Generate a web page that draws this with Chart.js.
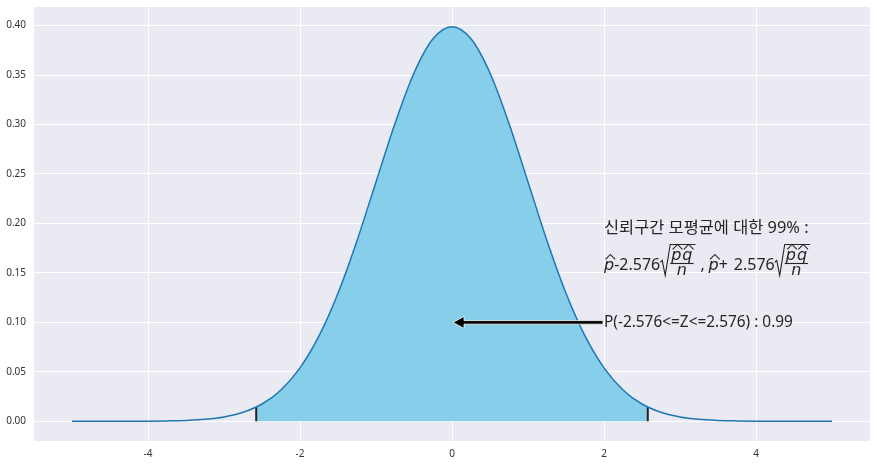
<!DOCTYPE html>
<html>
<head>
<meta charset="utf-8">
<script src="https://cdn.jsdelivr.net/npm/chart.js@4"></script>
<style>
  body { margin: 0; background: #fff; }
</style>
</head>
<body>
<canvas id="normChart" width="877" height="465"></canvas>
<script>
// values (standard normal density)
const xValues = [-5, -4.75, -4.5, -4.25, -4, -3.75, -3.5, -3.25, -3, -2.75, -2.5, -2.25, -2, -1.75, -1.5, -1.25, -1, -0.75, -0.5, -0.25,
  0, 0.25, 0.5, 0.75, 1, 1.25, 1.5, 1.75, 2, 2.25, 2.5, 2.75, 3, 3.25, 3.5, 3.75, 4, 4.25, 4.5, 4.75, 5];
const density = [0.0000, 0.0000, 0.0000, 0.0000, 0.0001, 0.0004, 0.0009, 0.0020, 0.0044, 0.0091, 0.0175, 0.0317, 0.0540, 0.0863, 0.1295, 0.1826, 0.2420, 0.3011, 0.3521, 0.3867,
  0.3989, 0.3867, 0.3521, 0.3011, 0.2420, 0.1826, 0.1295, 0.0863, 0.0540, 0.0317, 0.0175, 0.0091, 0.0044, 0.0020, 0.0009, 0.0004, 0.0001, 0.0000, 0.0000, 0.0000, 0.0000];
const zLow = -2.576, zHigh = 2.576;
const zHeight = 0.0145;

const xTicks = [-4, -2, 0, 2, 4];
const yTicks = [0, 0.05, 0.10, 0.15, 0.20, 0.25, 0.30, 0.35, 0.40];

const titleText = '신뢰구간 모평균에 대한 99% :';
const probText = 'P(-2.576<=Z<=2.576) : 0.99';

const curve = xValues.map((x, i) => ({ x: x, y: density[i] }));
const shaded = [{ x: zLow, y: zHeight }]
  .concat(curve.filter(p => p.x > zLow && p.x < zHigh))
  .concat([{ x: zHigh, y: zHeight }]);

const TEXT = '#262626';
const MAIN_FONT = '16px "Noto Sans"';
const MATH_FONT = 'italic 16px "DejaVu Sans"';

const bgPlugin = {
  id: 'bg',
  beforeDraw(chart) {
    const { ctx, chartArea: a } = chart;
    ctx.save();
    ctx.fillStyle = '#eaeaf2';
    ctx.fillRect(a.left, a.top, a.right - a.left, a.bottom - a.top);
    ctx.restore();
  }
};

function hat(ctx, x0, x1, yTop, yBot) {
  ctx.beginPath();
  ctx.moveTo(x0, yBot);
  ctx.lineTo((x0 + x1) / 2, yTop);
  ctx.lineTo(x1, yBot);
  ctx.stroke();
}

function letterHat(ctx, ch, x, base) {
  ctx.font = MATH_FONT;
  ctx.fillText(ch, x, base);
  const w = ctx.measureText(ch).width;
  hat(ctx, x + 1.5, x + w + 1, base - 16, base - 11);
  return w;
}

// sqrt of p^q^/n, returns width
function radicalFrac(ctx, x, b) {
  ctx.font = MATH_FONT;
  const wp = ctx.measureText('p').width, wq = ctx.measureText('q').width;
  const numW = wp + wq + 2;
  const bx = x + 10;
  const end = bx + numW + 3;
  ctx.beginPath();
  ctx.moveTo(x, b - 8);
  ctx.lineTo(x + 2, b - 10);
  ctx.lineTo(x + 5, b + 5);
  ctx.lineTo(bx, b - 26);
  ctx.lineTo(end, b - 26);
  ctx.stroke();
  const nx = bx + 1;
  letterHat(ctx, 'p', nx, b - 10);
  letterHat(ctx, 'q', nx + wp + 1, b - 10);
  ctx.fillRect(bx, b - 7.5, numW + 1, 1.1);
  ctx.font = MATH_FONT;
  const wn = ctx.measureText('n').width;
  ctx.fillText('n', bx + (numW + 1 - wn) / 2, b + 5);
  return end - x;
}

const notePlugin = {
  id: 'notes',
  afterDatasetsDraw(chart) {
    const { ctx } = chart;
    const xs = chart.scales.x, ys = chart.scales.y;
    ctx.save();

    // arrow from text to mean
    const tip = xs.getPixelForValue(0) + 1;
    const tail = xs.getPixelForValue(2) - 1;
    const ya = ys.getPixelForValue(0.1);
    ctx.beginPath();
    ctx.moveTo(tip, ya);
    ctx.lineTo(tip + 11, ya - 6);
    ctx.lineTo(tip + 11, ya - 1.8);
    ctx.lineTo(tail, ya - 1.8);
    ctx.lineTo(tail, ya + 1.8);
    ctx.lineTo(tip + 11, ya + 1.8);
    ctx.lineTo(tip + 11, ya + 6);
    ctx.closePath();
    ctx.fillStyle = '#000';
    ctx.fill();
    ctx.strokeStyle = '#fff';
    ctx.lineWidth = 0.8;
    ctx.stroke();

    const x0 = xs.getPixelForValue(2);
    ctx.fillStyle = TEXT;
    ctx.strokeStyle = TEXT;
    ctx.lineWidth = 1.1;

    ctx.textBaseline = 'middle';
    ctx.font = '15.4px "Noto Sans"';
    ctx.fillText(probText, x0, ya);

    ctx.font = '16.4px "Noto Sans", "Noto Sans CJK KR"';
    ctx.fillText(titleText, x0, ys.getPixelForValue(0.195));

    // formula line
    ctx.textBaseline = 'alphabetic';
    const b = ys.getPixelForValue(0.1525);
    let x = x0;
    x += letterHat(ctx, 'p', x, b);
    ctx.font = MAIN_FONT;
    ctx.fillText('-2.576', x, b);
    x += ctx.measureText('-2.576').width;
    x += radicalFrac(ctx, x, b);
    x += 5;
    ctx.font = MAIN_FONT;
    ctx.fillText(',', x, b);
    x += 8;
    x += letterHat(ctx, 'p', x, b);
    ctx.font = MAIN_FONT;
    ctx.fillText('+', x, b);
    x += ctx.measureText('+').width + 6;
    ctx.fillText('2.576', x, b);
    x += ctx.measureText('2.576').width;
    radicalFrac(ctx, x, b);

    ctx.restore();
  }
};

const ctx = document.getElementById('normChart').getContext('2d');
const normChart = new Chart(ctx, {
  type: 'line',
  data: {
    datasets: [
      {
        data: curve,
        borderColor: '#1f77b4',
        borderWidth: 1.5,
        cubicInterpolationMode: 'monotone',
        fill: false,
        order: 0
      },
      {
        data: [{ x: zLow, y: 0 }, { x: zLow, y: zHeight }],
        borderColor: '#222',
        borderWidth: 2,
        fill: false,
        order: 1
      },
      {
        data: [{ x: zHigh, y: 0 }, { x: zHigh, y: zHeight }],
        borderColor: '#222',
        borderWidth: 2,
        fill: false,
        order: 1
      },
      {
        data: shaded,
        borderWidth: 0,
        borderColor: 'rgba(0,0,0,0)',
        backgroundColor: '#87ceeb',
        cubicInterpolationMode: 'monotone',
        fill: 'origin',
        order: 2
      }
    ]
  },
  options: {
    responsive: false,
    animation: false,
    layout: { padding: { top: 7, right: 7, left: 0, bottom: 0 } },
    elements: { point: { radius: 0 } },
    plugins: {
      legend: { display: false },
      tooltip: { enabled: false }
    },
    scales: {
      x: {
        type: 'linear',
        min: -5.5,
        max: 5.5,
        afterBuildTicks: s => { s.ticks = xTicks.map(v => ({ value: v })); },
        afterFit: s => { s.height = 24; s.paddingLeft = 0; s.paddingRight = 0; },
        grid: { color: '#fff', lineWidth: 1, drawTicks: false },
        border: { display: false },
        ticks: { color: '#333', font: { size: 10, family: '"Noto Sans"' }, padding: 7, callback: v => String(v) }
      },
      y: {
        min: -0.0199,
        max: 0.4188,
        afterBuildTicks: s => { s.ticks = yTicks.map(v => ({ value: v })); },
        afterFit: s => { s.width = 34; s.paddingTop = 0; s.paddingBottom = 0; },
        grid: { color: '#fff', lineWidth: 1, drawTicks: false },
        border: { display: false },
        ticks: { color: '#333', font: { size: 10, family: '"Noto Sans"' }, padding: 8, callback: v => v.toFixed(2) }
      }
    }
  },
  plugins: [bgPlugin, notePlugin]
});
</script>
</body>
</html>
